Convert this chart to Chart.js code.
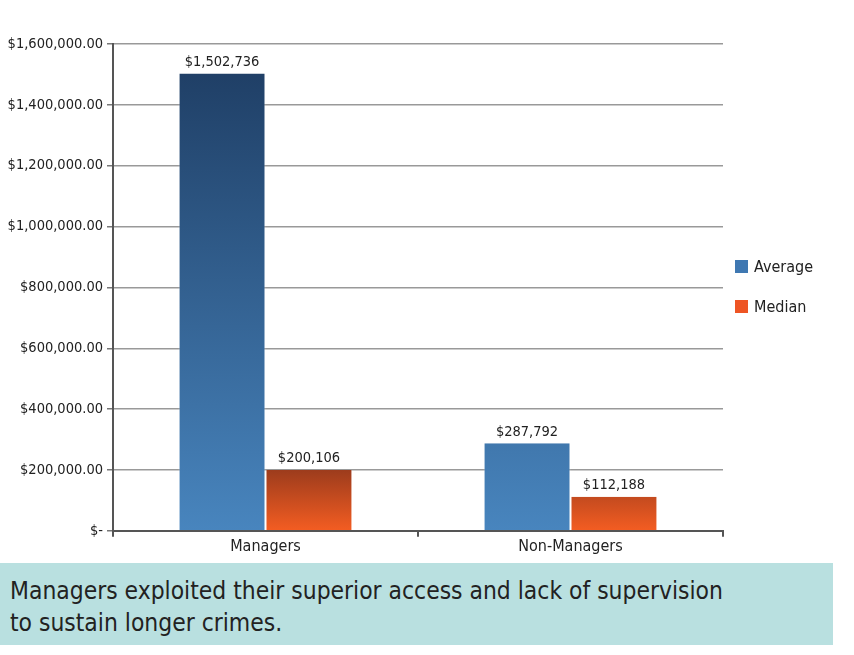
<!DOCTYPE html>
<html>
<head>
<meta charset="utf-8">
<script src="https://cdn.jsdelivr.net/npm/chart.js@4/dist/chart.umd.min.js"></script>
<style>
  html, body { margin: 0; padding: 0; background: #fff; }
  body { width: 854px; height: 655px; position: relative; overflow: hidden;
         font-family: "Liberation Sans Narrow", "DejaVu Sans Condensed", sans-serif; color: #222; }
  #wrap { position: absolute; left: 0; top: 0; width: 854px; height: 556px; }
  #legend { position: absolute; left: 735px; top: 257px; font-size: 16px; }
  #legend div { height: 40px; display: flex; align-items: flex-start; }
  #legend span.sw { display: inline-block; width: 13px; height: 13px; margin-top: 3px; margin-right: 6px; }
  #caption { position: absolute; left: 0; top: 563px; width: 833px; height: 82px; background: #b9e0e0;
             font-size: 24.4px; line-height: 32px; padding: 12px 0 0 10px; box-sizing: border-box; color: #222; }
</style>
</head>
<body>
<div id="wrap"><canvas id="c"></canvas></div>
<div id="legend"></div>
<div id="caption">Managers exploited their superior access and lack of supervision<br>to sustain longer crimes.</div>
<script>
const categories = ["Managers", "Non-Managers"];
const seriesNames = ["Average", "Median"];
const averageValues = [1502736, 287792];
const medianValues = [200106, 112188];
const yTicks = [0, 200000, 400000, 600000, 800000, 1000000, 1200000, 1400000, 1600000];

const FONT = '"Liberation Sans Narrow", "DejaVu Sans Condensed", sans-serif';

function gradFor(ctx, bottomColor, topColor, topValue) {
  const chart = ctx.chart;
  const area = chart.chartArea;
  if (!area) return bottomColor;
  const ys = chart.scales.y;
  const g = chart.ctx.createLinearGradient(0, ys.getPixelForValue(0), 0, ys.getPixelForValue(topValue));
  g.addColorStop(0, bottomColor);
  g.addColorStop(1, topColor);
  return g;
}

const valueLabels = {
  id: 'valueLabels',
  afterDatasetsDraw(chart) {
    const c = chart.ctx;
    c.save();
    c.font = '14.5px ' + FONT;
    c.fillStyle = '#222';
    c.textAlign = 'center';
    c.textBaseline = 'bottom';
    chart.data.datasets.forEach((ds, i) => {
      const meta = chart.getDatasetMeta(i);
      meta.data.forEach((bar, j) => {
        c.fillText('$' + ds.data[j].toLocaleString('en-US'), bar.x, bar.y - 4);
      });
    });
    c.restore();
  }
};

const legendColors = ['#3f78b2', '#ee5524'];
document.getElementById('legend').innerHTML = seriesNames.map((n, i) =>
  '<div><span class="sw" style="background:' + legendColors[i] + '"></span>' + n + '</div>').join('');

new Chart(document.getElementById('c'), {
  type: 'bar',
  data: {
    labels: categories,
    datasets: [
      { label: seriesNames[0], data: averageValues,
        backgroundColor: ctx => gradFor(ctx, '#4885be', '#1d3b61', 1600000),
        borderColor: 'rgba(255,255,255,0.35)', borderWidth: {left: 1, right: 1, top: 0, bottom: 0},
        categoryPercentage: 0.57, barPercentage: 1.0 },
      { label: seriesNames[1], data: medianValues,
        backgroundColor: ctx => gradFor(ctx, '#f45d22', '#983a1c', 210000),
        borderColor: 'rgba(255,255,255,0.35)', borderWidth: {left: 1, right: 1, top: 0, bottom: 0},
        categoryPercentage: 0.57, barPercentage: 1.0 }
    ]
  },
  options: {
    responsive: true,
    maintainAspectRatio: false,
    animation: false,
    layout: { padding: { left: 0, right: 131, top: 44, bottom: 0 } },
    plugins: { legend: { display: false }, tooltip: { enabled: false } },
    scales: {
      x: {
        grid: { drawOnChartArea: false, drawTicks: true, tickLength: 6, offset: true, color: '#555', lineWidth: 2 },
        border: { color: '#555', width: 2 },
        ticks: { color: '#222', font: { family: FONT, size: 16 }, padding: 0 }
      },
      y: {
        min: 0, max: 1600000,
        afterBuildTicks: axis => { axis.ticks = yTicks.map(v => ({ value: v })); },
        afterFit: axis => { axis.width = 113; },
        grid: { color: '#999', lineWidth: 1.5, tickLength: 6, tickColor: '#777' },
        border: { color: '#555', width: 2 },
        ticks: {
          color: '#222', font: { family: FONT, size: 14.5 }, padding: 4,
          callback: v => v === 0 ? '$-' : '$' + v.toLocaleString('en-US', { minimumFractionDigits: 2, maximumFractionDigits: 2 })
        }
      }
    }
  },
  plugins: [valueLabels]
});
</script>
</body>
</html>
